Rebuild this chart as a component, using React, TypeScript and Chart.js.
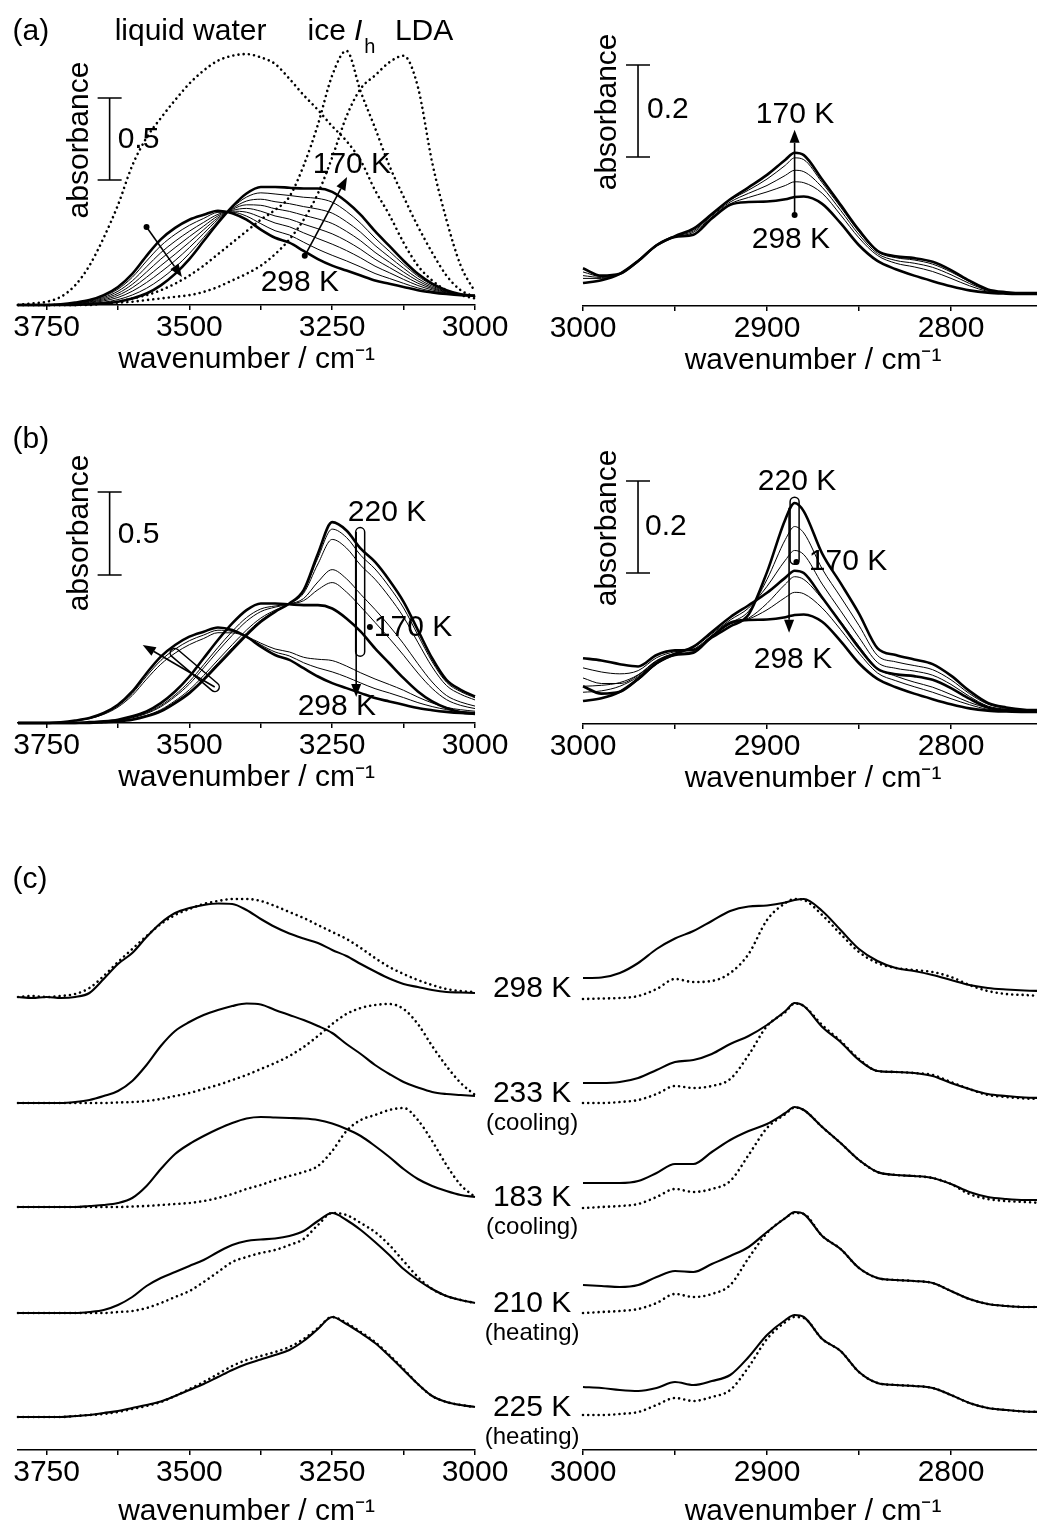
import { useEffect, useRef } from "react";
import { Chart, registerables } from "chart.js";
Chart.register(...registerables);

const FONT = '"Liberation Sans", Arial, Helvetica, sans-serif';
Chart.defaults.font.family = FONT;

// ---------------- data ----------------
const WN_L = [3800, 3775, 3750, 3725, 3700, 3675, 3650, 3625, 3600, 3575, 3550, 3525, 3500, 3475, 3450, 3425, 3400, 3375, 3350, 3325, 3300, 3275, 3250, 3225, 3200, 3175, 3150, 3125, 3100, 3075, 3050, 3025, 3000];
const WN_R = [3000, 2990, 2980, 2970, 2960, 2950, 2940, 2930, 2920, 2910, 2900, 2890, 2885, 2880, 2870, 2860, 2850, 2840, 2830, 2820, 2810, 2800, 2790, 2780, 2770, 2760, 2750];

// (a) OH stretch
const liquidWater = [0.00, 0.01, 0.02, 0.05, 0.12, 0.24, 0.41, 0.61, 0.85, 1.02, 1.14, 1.25, 1.35, 1.43, 1.49, 1.52, 1.53, 1.51, 1.47, 1.38, 1.28, 1.19, 1.09, 1.00, 0.88, 0.70, 0.55, 0.38, 0.24, 0.15, 0.09, 0.06, 0.04];
const iceIh = [0, 0, 0, 0, 0, 0.00, 0.01, 0.02, 0.04, 0.06, 0.09, 0.13, 0.18, 0.24, 0.31, 0.38, 0.45, 0.52, 0.58, 0.66, 0.85, 1.10, 1.40, 1.55, 1.30, 1.08, 0.85, 0.66, 0.48, 0.32, 0.18, 0.09, 0.05];
const lda = [0, 0, 0, 0, 0.00, 0.005, 0.01, 0.015, 0.02, 0.03, 0.04, 0.05, 0.06, 0.08, 0.11, 0.15, 0.19, 0.24, 0.31, 0.40, 0.52, 0.68, 0.90, 1.15, 1.32, 1.40, 1.48, 1.52, 1.33, 0.87, 0.52, 0.24, 0.08];
const oh298 = [0, 0, 0, 0.005, 0.015, 0.03, 0.06, 0.11, 0.19, 0.30, 0.40, 0.47, 0.52, 0.55, 0.575, 0.56, 0.52, 0.46, 0.41, 0.38, 0.33, 0.28, 0.24, 0.21, 0.18, 0.15, 0.13, 0.11, 0.09, 0.077, 0.067, 0.06, 0.057];
const oh170 = [0, 0, 0, 0, 0, 0.005, 0.01, 0.02, 0.04, 0.07, 0.12, 0.19, 0.28, 0.39, 0.50, 0.60, 0.68, 0.72, 0.72, 0.715, 0.71, 0.71, 0.69, 0.63, 0.55, 0.45, 0.36, 0.27, 0.19, 0.13, 0.09, 0.065, 0.055];
const ohCool1 = [0, 0, 0, 0.004, 0.013, 0.027, 0.053, 0.097, 0.169, 0.268, 0.361, 0.431, 0.486, 0.528, 0.565, 0.566, 0.542, 0.496, 0.453, 0.427, 0.383, 0.340, 0.303, 0.269, 0.232, 0.192, 0.162, 0.132, 0.104, 0.084, 0.070, 0.061, 0.057];
const ohCool2 = [0, 0, 0, 0.004, 0.011, 0.023, 0.046, 0.084, 0.147, 0.233, 0.319, 0.389, 0.450, 0.504, 0.553, 0.572, 0.566, 0.535, 0.500, 0.477, 0.440, 0.405, 0.371, 0.332, 0.287, 0.237, 0.197, 0.156, 0.119, 0.092, 0.074, 0.062, 0.056];
const ohCool3 = [0, 0, 0, 0.003, 0.009, 0.019, 0.039, 0.071, 0.126, 0.201, 0.280, 0.350, 0.417, 0.481, 0.543, 0.577, 0.589, 0.572, 0.543, 0.524, 0.493, 0.465, 0.434, 0.391, 0.339, 0.279, 0.229, 0.179, 0.133, 0.100, 0.077, 0.062, 0.056];
const ohCool4 = [0, 0, 0, 0.002, 0.007, 0.016, 0.032, 0.059, 0.105, 0.169, 0.240, 0.310, 0.383, 0.459, 0.532, 0.583, 0.611, 0.608, 0.587, 0.571, 0.547, 0.525, 0.497, 0.449, 0.391, 0.321, 0.261, 0.201, 0.147, 0.107, 0.080, 0.063, 0.056];
const ohCool5 = [0, 0, 0, 0.002, 0.004, 0.012, 0.025, 0.046, 0.084, 0.137, 0.201, 0.271, 0.350, 0.436, 0.522, 0.588, 0.634, 0.645, 0.630, 0.618, 0.600, 0.585, 0.560, 0.508, 0.443, 0.363, 0.293, 0.224, 0.161, 0.115, 0.083, 0.064, 0.056];
const ohCool6 = [0, 0, 0, 0.001, 0.002, 0.009, 0.017, 0.033, 0.061, 0.102, 0.159, 0.229, 0.314, 0.412, 0.511, 0.594, 0.658, 0.684, 0.677, 0.668, 0.657, 0.650, 0.627, 0.571, 0.498, 0.408, 0.328, 0.248, 0.176, 0.123, 0.087, 0.064, 0.055];

// (a) CH stretch
const ch298 = [0.050, 0.056, 0.070, 0.098, 0.132, 0.150, 0.155, 0.190, 0.220, 0.226, 0.227, 0.232, 0.237, 0.238, 0.222, 0.180, 0.132, 0.098, 0.080, 0.066, 0.054, 0.043, 0.034, 0.029, 0.027, 0.026, 0.026];
const ch170 = [0.082, 0.066, 0.070, 0.098, 0.132, 0.152, 0.168, 0.200, 0.232, 0.258, 0.285, 0.318, 0.333, 0.328, 0.275, 0.220, 0.165, 0.120, 0.108, 0.104, 0.096, 0.078, 0.055, 0.036, 0.030, 0.028, 0.028];
const chCool1 = [0.060, 0.060, 0.070, 0.098, 0.132, 0.150, 0.160, 0.193, 0.222, 0.236, 0.248, 0.262, 0.270, 0.268, 0.245, 0.198, 0.148, 0.110, 0.093, 0.085, 0.075, 0.060, 0.044, 0.032, 0.028, 0.027, 0.027];
const chCool2 = [0.066, 0.062, 0.070, 0.098, 0.132, 0.151, 0.163, 0.196, 0.226, 0.245, 0.262, 0.284, 0.295, 0.292, 0.258, 0.208, 0.155, 0.114, 0.099, 0.093, 0.084, 0.068, 0.049, 0.034, 0.029, 0.028, 0.028];
const chCool3 = [0.074, 0.064, 0.070, 0.098, 0.132, 0.152, 0.166, 0.198, 0.230, 0.252, 0.276, 0.306, 0.322, 0.318, 0.268, 0.215, 0.161, 0.118, 0.105, 0.100, 0.091, 0.074, 0.053, 0.035, 0.030, 0.028, 0.028];

// (b) OH stretch, heating
const oh220 = [0, 0, 0, 0, 0, 0, 0.005, 0.01, 0.02, 0.04, 0.07, 0.12, 0.18, 0.26, 0.35, 0.44, 0.53, 0.61, 0.67, 0.72, 0.80, 1.02, 1.21, 1.16, 1.05, 0.97, 0.86, 0.73, 0.56, 0.39, 0.26, 0.20, 0.16];
const ohHeat1 = [0, 0, 0, 0, 0, 0.004, 0.009, 0.017, 0.034, 0.061, 0.105, 0.169, 0.250, 0.351, 0.455, 0.552, 0.635, 0.687, 0.705, 0.717, 0.737, 0.803, 0.846, 0.789, 0.700, 0.606, 0.510, 0.408, 0.301, 0.208, 0.141, 0.106, 0.087];
const ohHeat2 = [0, 0, 0, 0, 0, 0.003, 0.008, 0.016, 0.031, 0.057, 0.098, 0.159, 0.235, 0.332, 0.433, 0.528, 0.613, 0.671, 0.698, 0.717, 0.750, 0.850, 0.924, 0.869, 0.775, 0.684, 0.585, 0.477, 0.357, 0.247, 0.166, 0.126, 0.102];
const ohHeat3 = [0, 0, 0, 0, 0, 0.001, 0.006, 0.012, 0.024, 0.046, 0.080, 0.134, 0.200, 0.286, 0.380, 0.472, 0.560, 0.632, 0.680, 0.719, 0.782, 0.958, 1.106, 1.054, 0.950, 0.866, 0.760, 0.638, 0.486, 0.338, 0.226, 0.173, 0.139];
const ohHeat4 = [0, 0, 0, 0, 0, 0.000, 0.005, 0.011, 0.022, 0.042, 0.074, 0.126, 0.188, 0.270, 0.362, 0.453, 0.542, 0.619, 0.674, 0.720, 0.793, 0.995, 1.168, 1.118, 1.010, 0.928, 0.820, 0.693, 0.530, 0.369, 0.246, 0.189, 0.152];
const ohMelt1 = [0, 0, 0, 0.005, 0.014, 0.028, 0.056, 0.103, 0.178, 0.282, 0.377, 0.445, 0.496, 0.530, 0.559, 0.552, 0.521, 0.471, 0.428, 0.404, 0.363, 0.332, 0.308, 0.277, 0.241, 0.207, 0.181, 0.153, 0.123, 0.099, 0.081, 0.070, 0.064];
const ohMelt2 = [0, 0, 0, 0.004, 0.013, 0.026, 0.052, 0.096, 0.166, 0.264, 0.354, 0.421, 0.472, 0.509, 0.544, 0.543, 0.521, 0.481, 0.446, 0.428, 0.396, 0.384, 0.376, 0.343, 0.302, 0.265, 0.232, 0.197, 0.156, 0.121, 0.094, 0.080, 0.071];

// (b) CH stretch, heating
const ch220 = [0.143, 0.138, 0.130, 0.125, 0.150, 0.160, 0.161, 0.188, 0.212, 0.238, 0.330, 0.445, 0.480, 0.462, 0.370, 0.306, 0.240, 0.165, 0.150, 0.140, 0.130, 0.105, 0.072, 0.046, 0.036, 0.031, 0.030];
const chHeat1 = [0.100, 0.088, 0.088, 0.106, 0.137, 0.154, 0.166, 0.196, 0.226, 0.252, 0.299, 0.356, 0.377, 0.368, 0.304, 0.246, 0.188, 0.134, 0.121, 0.115, 0.106, 0.086, 0.060, 0.039, 0.032, 0.029, 0.029];
const chHeat2 = [0.122, 0.113, 0.109, 0.116, 0.144, 0.157, 0.163, 0.192, 0.219, 0.245, 0.314, 0.401, 0.429, 0.415, 0.337, 0.276, 0.214, 0.149, 0.135, 0.127, 0.118, 0.096, 0.066, 0.043, 0.034, 0.030, 0.029];
const chMelt1 = [0.082, 0.084, 0.090, 0.107, 0.138, 0.153, 0.157, 0.189, 0.217, 0.230, 0.262, 0.304, 0.320, 0.314, 0.272, 0.223, 0.169, 0.121, 0.104, 0.091, 0.080, 0.064, 0.047, 0.035, 0.030, 0.028, 0.027];
const chMelt2 = [0.069, 0.072, 0.082, 0.103, 0.136, 0.152, 0.156, 0.190, 0.218, 0.228, 0.248, 0.275, 0.286, 0.283, 0.252, 0.205, 0.154, 0.111, 0.094, 0.081, 0.069, 0.055, 0.042, 0.032, 0.029, 0.027, 0.027];

// (c) normalised spectra, solid and dotted
const cOH298s = [0.01, 0.00, 0.01, 0.00, 0.01, 0.05, 0.19, 0.34, 0.45, 0.61, 0.75, 0.85, 0.90, 0.93, 0.945, 0.94, 0.88, 0.79, 0.71, 0.645, 0.595, 0.55, 0.48, 0.42, 0.34, 0.265, 0.195, 0.14, 0.11, 0.08, 0.06, 0.055, 0.05];
const cOH298d = [0.01, 0.02, 0.01, 0.02, 0.04, 0.10, 0.22, 0.36, 0.49, 0.62, 0.74, 0.83, 0.89, 0.94, 0.97, 0.99, 0.99, 0.97, 0.92, 0.86, 0.80, 0.73, 0.66, 0.59, 0.50, 0.40, 0.31, 0.24, 0.18, 0.13, 0.09, 0.07, 0.06];
const cOH233s = [0, 0, 0, 0, 0.01, 0.03, 0.07, 0.12, 0.22, 0.38, 0.57, 0.72, 0.81, 0.88, 0.93, 0.97, 0.995, 0.985, 0.93, 0.88, 0.83, 0.77, 0.70, 0.59, 0.49, 0.38, 0.29, 0.21, 0.155, 0.11, 0.09, 0.08, 0.07];
const cOH233d = [0, 0, 0, 0, 0, 0, 0, 0.005, 0.01, 0.02, 0.04, 0.07, 0.10, 0.14, 0.18, 0.23, 0.28, 0.34, 0.40, 0.47, 0.56, 0.67, 0.79, 0.89, 0.95, 0.98, 0.99, 0.94, 0.79, 0.57, 0.37, 0.20, 0.08];
const cOH183s = [0, 0, 0, 0, 0, 0.01, 0.02, 0.04, 0.09, 0.21, 0.38, 0.53, 0.63, 0.71, 0.78, 0.84, 0.885, 0.90, 0.895, 0.89, 0.885, 0.87, 0.835, 0.78, 0.71, 0.61, 0.50, 0.38, 0.28, 0.21, 0.16, 0.12, 0.10];
const cOH183d = [0, 0, 0, 0, 0, 0, 0, 0, 0.005, 0.01, 0.02, 0.03, 0.04, 0.06, 0.09, 0.13, 0.18, 0.22, 0.27, 0.31, 0.35, 0.41, 0.56, 0.76, 0.87, 0.92, 0.97, 0.99, 0.87, 0.66, 0.42, 0.22, 0.10];
const cOH210s = [0, 0, 0, 0, 0, 0.01, 0.03, 0.08, 0.16, 0.27, 0.35, 0.41, 0.47, 0.53, 0.61, 0.68, 0.72, 0.735, 0.745, 0.77, 0.82, 0.92, 1.00, 0.93, 0.83, 0.71, 0.58, 0.44, 0.33, 0.24, 0.17, 0.13, 0.10];
const cOH210d = [0, 0, 0, 0, 0, 0, 0, 0.01, 0.02, 0.05, 0.10, 0.16, 0.22, 0.31, 0.41, 0.51, 0.56, 0.60, 0.63, 0.68, 0.74, 0.88, 1.00, 0.98, 0.90, 0.81, 0.68, 0.52, 0.36, 0.24, 0.17, 0.13, 0.10];
const cOH225s = [0, 0, 0, 0, 0.01, 0.02, 0.04, 0.06, 0.09, 0.12, 0.155, 0.21, 0.27, 0.33, 0.40, 0.47, 0.53, 0.575, 0.62, 0.67, 0.76, 0.88, 1.00, 0.93, 0.84, 0.74, 0.61, 0.47, 0.33, 0.21, 0.15, 0.12, 0.10];
const cOH225d = [0, 0, 0, 0, 0.01, 0.02, 0.03, 0.05, 0.08, 0.11, 0.15, 0.21, 0.28, 0.35, 0.43, 0.51, 0.57, 0.61, 0.65, 0.70, 0.78, 0.89, 1.00, 0.94, 0.85, 0.75, 0.62, 0.48, 0.33, 0.21, 0.15, 0.12, 0.10];

const cCH298s = [0.20, 0.205, 0.25, 0.35, 0.49, 0.595, 0.67, 0.77, 0.87, 0.915, 0.925, 0.955, 0.98, 0.99, 0.87, 0.68, 0.49, 0.37, 0.30, 0.27, 0.23, 0.18, 0.13, 0.10, 0.085, 0.075, 0.07];
const cCH298d = [-0.01, -0.005, 0.00, 0.02, 0.09, 0.19, 0.16, 0.17, 0.25, 0.44, 0.78, 0.95, 0.99, 0.98, 0.83, 0.64, 0.46, 0.35, 0.30, 0.28, 0.26, 0.21, 0.13, 0.07, 0.04, 0.03, 0.02];
const cCH233s = [0.20, 0.20, 0.21, 0.25, 0.33, 0.41, 0.43, 0.49, 0.59, 0.67, 0.78, 0.92, 1.00, 0.97, 0.76, 0.61, 0.43, 0.32, 0.31, 0.30, 0.27, 0.20, 0.14, 0.09, 0.07, 0.055, 0.05];
const cCH233d = [0.00, 0.00, 0.01, 0.03, 0.09, 0.17, 0.15, 0.17, 0.24, 0.48, 0.77, 0.91, 0.995, 0.97, 0.78, 0.62, 0.44, 0.32, 0.31, 0.30, 0.28, 0.21, 0.14, 0.08, 0.06, 0.045, 0.04];
const cCH183s = [0.24, 0.24, 0.24, 0.26, 0.34, 0.43, 0.43, 0.55, 0.67, 0.76, 0.83, 0.94, 1.00, 0.97, 0.80, 0.64, 0.47, 0.35, 0.32, 0.31, 0.29, 0.23, 0.15, 0.10, 0.08, 0.07, 0.07];
const cCH183d = [-0.01, 0.00, 0.01, 0.03, 0.10, 0.18, 0.15, 0.18, 0.26, 0.52, 0.79, 0.93, 0.995, 0.97, 0.80, 0.64, 0.47, 0.35, 0.32, 0.31, 0.29, 0.23, 0.13, 0.08, 0.06, 0.05, 0.04];
const cCH210s = [0.28, 0.27, 0.26, 0.28, 0.36, 0.42, 0.41, 0.49, 0.57, 0.66, 0.81, 0.95, 1.01, 0.99, 0.77, 0.64, 0.45, 0.35, 0.33, 0.32, 0.30, 0.22, 0.14, 0.09, 0.07, 0.06, 0.06];
const cCH210d = [0.00, 0.01, 0.02, 0.04, 0.10, 0.19, 0.16, 0.19, 0.28, 0.55, 0.80, 0.95, 1.00, 0.99, 0.77, 0.64, 0.45, 0.35, 0.33, 0.32, 0.30, 0.22, 0.14, 0.09, 0.07, 0.06, 0.06];
const cCH225s = [0.30, 0.29, 0.27, 0.26, 0.29, 0.35, 0.32, 0.36, 0.42, 0.60, 0.82, 0.97, 1.02, 1.00, 0.78, 0.66, 0.45, 0.34, 0.32, 0.31, 0.29, 0.22, 0.14, 0.09, 0.07, 0.055, 0.05];
const cCH225d = [0.02, 0.02, 0.03, 0.05, 0.12, 0.19, 0.16, 0.20, 0.27, 0.50, 0.78, 0.95, 1.00, 0.99, 0.78, 0.66, 0.45, 0.34, 0.32, 0.31, 0.29, 0.22, 0.14, 0.09, 0.07, 0.055, 0.05];

const ROW_OFFSETS_C = [4.19, 3.14, 2.10, 1.04, 0];
const ROW_TEMPS_C = ["298 K", "233 K", "183 K", "210 K", "225 K"];
const ROW_NOTES_C = ["", "(cooling)", "(cooling)", "(heating)", "(heating)"];

const TICKS_L = [3750, 3625, 3500, 3375, 3250, 3125, 3000];
const LABELS_L = [3750, 3500, 3250, 3000];
const TICKS_R = [3000, 2950, 2900, 2850, 2800, 2750];
const LABELS_R = [3000, 2900, 2800];
const X_TITLE = "wavenumber / cm\u207B\u00B9";

// ---------------- drawing helpers ----------------
type Ctx = CanvasRenderingContext2D;
type Fx = (v: number) => number;

function txt(ctx: Ctx, s: string, x: number, y: number, size = 30, align: CanvasTextAlign = "center", style = "") {
  ctx.font = `${style} ${size}px ${FONT}`;
  ctx.fillStyle = "#000";
  ctx.textAlign = align;
  ctx.textBaseline = "middle";
  ctx.fillText(s, x, y);
}
function vtxt(ctx: Ctx, s: string, x: number, y: number, size = 30) {
  ctx.save();
  ctx.translate(x, y);
  ctx.rotate(-Math.PI / 2);
  txt(ctx, s, 0, 0, size);
  ctx.restore();
}
function arrow(ctx: Ctx, x1: number, y1: number, x2: number, y2: number) {
  const head = 13, hw = 5;
  const a = Math.atan2(y2 - y1, x2 - x1);
  const bx = x2 - head * Math.cos(a), by = y2 - head * Math.sin(a);
  ctx.strokeStyle = "#000";
  ctx.lineWidth = 1.6;
  ctx.beginPath();
  ctx.moveTo(x1, y1);
  ctx.lineTo(bx, by);
  ctx.stroke();
  ctx.beginPath();
  ctx.moveTo(x2, y2);
  ctx.lineTo(bx + hw * Math.sin(a), by - hw * Math.cos(a));
  ctx.lineTo(bx - hw * Math.sin(a), by + hw * Math.cos(a));
  ctx.closePath();
  ctx.fillStyle = "#000";
  ctx.fill();
}
function dot(ctx: Ctx, x: number, y: number, r = 3) {
  ctx.beginPath();
  ctx.arc(x, y, r, 0, Math.PI * 2);
  ctx.fillStyle = "#000";
  ctx.fill();
}
function capsule(ctx: Ctx, x1: number, y1: number, x2: number, y2: number, w = 9) {
  const a = Math.atan2(y2 - y1, x2 - x1);
  const len = Math.hypot(x2 - x1, y2 - y1);
  ctx.save();
  ctx.translate(x1, y1);
  ctx.rotate(a);
  ctx.beginPath();
  ctx.roundRect(-w / 2, -w / 2, len + w, w, w / 2);
  ctx.lineWidth = 1.5;
  ctx.strokeStyle = "#000";
  ctx.stroke();
  ctx.restore();
}
function scaleBar(ctx: Ctx, x: number, yTop: number, yBot: number) {
  ctx.strokeStyle = "#000";
  ctx.lineWidth = 1.6;
  ctx.beginPath();
  ctx.moveTo(x, yTop);
  ctx.lineTo(x, yBot);
  ctx.moveTo(x - 12, yTop);
  ctx.lineTo(x + 12, yTop);
  ctx.moveTo(x - 12, yBot);
  ctx.lineTo(x + 12, yBot);
  ctx.stroke();
}

// ---------------- panel definitions ----------------
type Series = { wn: number[]; v: number[]; w: number; dotted?: boolean; off?: number };
type Panel = {
  key: string;
  area: { l: number; r: number; t: number; b: number };
  padL: number; padR: number; padT: number; axisH: number;
  xMin: number; xMax: number; ticks: number[]; labels: number[];
  yMin: number; yMax: number;
  series: Series[];
  annotate: (ctx: Ctx, X: Fx, Y: Fx) => void;
};

const THICK = 2.6, THIN = 1.0, DOT = 2.6, CW = 2.1;

const cRowsL: [number[], number[]][] = [[cOH298s, cOH298d], [cOH233s, cOH233d], [cOH183s, cOH183d], [cOH210s, cOH210d], [cOH225s, cOH225d]];
const cRowsR: [number[], number[]][] = [[cCH298s, cCH298d], [cCH233s, cCH233d], [cCH183s, cCH183d], [cCH210s, cCH210d], [cCH225s, cCH225d]];

const PANELS: Panel[] = [
  {
    key: "aL", area: { l: 18, r: 475, t: 20, b: 305 }, padL: 60, padR: 60, padT: 40, axisH: 73,
    xMin: 3000, xMax: 3800, ticks: TICKS_L, labels: LABELS_L, yMin: 0, yMax: 1.738,
    series: [
      { wn: WN_L, v: liquidWater, w: DOT, dotted: true },
      { wn: WN_L, v: iceIh, w: DOT, dotted: true },
      { wn: WN_L, v: lda, w: DOT, dotted: true },
      { wn: WN_L, v: oh298, w: THICK },
      { wn: WN_L, v: ohCool1, w: THIN },
      { wn: WN_L, v: ohCool2, w: THIN },
      { wn: WN_L, v: ohCool3, w: THIN },
      { wn: WN_L, v: ohCool4, w: THIN },
      { wn: WN_L, v: ohCool5, w: THIN },
      { wn: WN_L, v: ohCool6, w: THIN },
      { wn: WN_L, v: oh170, w: THICK },
    ],
    annotate: (ctx, X, Y) => {
      txt(ctx, "(a)", X(3809.5), Y(1.665), 30, "left");
      txt(ctx, "liquid water", X(3630.8), Y(1.665), 30, "left");
      txt(ctx, "ice", X(3293), Y(1.665), 30, "left");
      txt(ctx, "I", X(3212), Y(1.665), 30, "left", "italic");
      txt(ctx, "h", X(3194), Y(1.57), 20, "left");
      txt(ctx, "LDA", X(3140.2), Y(1.665), 30, "left");
      scaleBar(ctx, X(3639.6), Y(1.262), Y(0.762));
      txt(ctx, "0.5", X(3625.5), Y(1.006), 30, "left");
      vtxt(ctx, "absorbance", X(3692), Y(1.006));
      txt(ctx, "170 K", X(3215.5), Y(0.854));
      txt(ctx, "298 K", X(3306.6), Y(0.134));
      dot(ctx, X(3575), Y(0.476));
      arrow(ctx, X(3575), Y(0.476), X(3513), Y(0.171));
      dot(ctx, X(3298), Y(0.30));
      arrow(ctx, X(3298), Y(0.30), X(3224), Y(0.78));
    },
  },
  {
    key: "aR", area: { l: 583, r: 1043, t: 20, b: 306 }, padL: 60, padR: 60, padT: 40, axisH: 73,
    xMin: 2750, xMax: 3000, ticks: TICKS_R, labels: LABELS_R, yMin: 0, yMax: 0.6217,
    series: [
      { wn: WN_R, v: ch298, w: THICK },
      { wn: WN_R, v: chCool1, w: THIN },
      { wn: WN_R, v: chCool2, w: THIN },
      { wn: WN_R, v: chCool3, w: THIN },
      { wn: WN_R, v: ch170, w: THICK },
    ],
    annotate: (ctx, X, Y) => {
      scaleBar(ctx, X(2970.1), Y(0.524), Y(0.324));
      txt(ctx, "0.2", X(2965.2), Y(0.426), 30, "left");
      vtxt(ctx, "absorbance", X(2986.4), Y(0.422));
      txt(ctx, "170 K", X(2884.8), Y(0.415));
      txt(ctx, "298 K", X(2887), Y(0.143));
      dot(ctx, X(2885), Y(0.198));
      arrow(ctx, X(2885), Y(0.198), X(2885), Y(0.383));
    },
  },
  {
    key: "bL", area: { l: 18, r: 475, t: 440, b: 723 }, padL: 60, padR: 60, padT: 40, axisH: 73,
    xMin: 3000, xMax: 3800, ticks: TICKS_L, labels: LABELS_L, yMin: 0, yMax: 1.705,
    series: [
      { wn: WN_L, v: oh298, w: THICK },
      { wn: WN_L, v: ohMelt1, w: THIN },
      { wn: WN_L, v: ohMelt2, w: THIN },
      { wn: WN_L, v: oh170, w: THICK },
      { wn: WN_L, v: ohHeat1, w: THIN },
      { wn: WN_L, v: ohHeat2, w: THIN },
      { wn: WN_L, v: ohHeat3, w: THIN },
      { wn: WN_L, v: ohHeat4, w: THIN },
      { wn: WN_L, v: oh220, w: THICK },
    ],
    annotate: (ctx, X, Y) => {
      txt(ctx, "(b)", X(3809.5), Y(1.705), 30, "left");
      scaleBar(ctx, X(3639.6), Y(1.392), Y(0.892));
      txt(ctx, "0.5", X(3625.5), Y(1.133), 30, "left");
      vtxt(ctx, "absorbance", X(3692), Y(1.145));
      txt(ctx, "220 K", X(3154), Y(1.265));
      txt(ctx, "170 K", X(3108.6), Y(0.572));
      txt(ctx, "298 K", X(3241.8), Y(0.096));
      capsule(ctx, X(3201), Y(1.15), X(3201), Y(0.43));
      arrow(ctx, X(3208), Y(1.15), X(3208), Y(0.157));
      dot(ctx, X(3184), Y(0.578));
      capsule(ctx, X(3525.7), Y(0.422), X(3455.6), Y(0.217));
      arrow(ctx, X(3455.6), Y(0.217), X(3581.7), Y(0.47));
    },
  },
  {
    key: "bR", area: { l: 583, r: 1043, t: 440, b: 724 }, padL: 60, padR: 60, padT: 40, axisH: 73,
    xMin: 2750, xMax: 3000, ticks: TICKS_R, labels: LABELS_R, yMin: 0, yMax: 0.617,
    series: [
      { wn: WN_R, v: ch298, w: THICK },
      { wn: WN_R, v: chMelt2, w: THIN },
      { wn: WN_R, v: chMelt1, w: THIN },
      { wn: WN_R, v: ch170, w: THICK },
      { wn: WN_R, v: chHeat1, w: THIN },
      { wn: WN_R, v: chHeat2, w: THIN },
      { wn: WN_R, v: ch220, w: THICK },
    ],
    annotate: (ctx, X, Y) => {
      scaleBar(ctx, X(2970.1), Y(0.528), Y(0.328));
      txt(ctx, "0.2", X(2966.3), Y(0.428), 30, "left");
      vtxt(ctx, "absorbance", X(2986.4), Y(0.426));
      txt(ctx, "220 K", X(2883.7), Y(0.526));
      txt(ctx, "170 K", X(2856), Y(0.352));
      txt(ctx, "298 K", X(2885.9), Y(0.139));
      capsule(ctx, X(2885), Y(0.483), X(2885), Y(0.357));
      arrow(ctx, X(2888), Y(0.47), X(2888), Y(0.198));
      dot(ctx, X(2884), Y(0.352));
    },
  },
  {
    key: "cL", area: { l: 18, r: 475, t: 880, b: 1450 }, padL: 60, padR: 135, padT: 40, axisH: 80,
    xMin: 3000, xMax: 3800, ticks: TICKS_L, labels: LABELS_L, yMin: -0.33, yMax: 5.37,
    series: cRowsL.flatMap(([s, d], i) => [
      { wn: WN_L, v: d, w: DOT, dotted: true, off: ROW_OFFSETS_C[i] },
      { wn: WN_L, v: s, w: CW, off: ROW_OFFSETS_C[i] },
    ]),
    annotate: (ctx, X, Y) => {
      txt(ctx, "(c)", X(3809.5), Y(5.37), 30, "left");
      ROW_OFFSETS_C.forEach((off, i) => {
        txt(ctx, ROW_TEMPS_C[i], X(2900), Y(off + 0.09), 30);
        if (ROW_NOTES_C[i]) txt(ctx, ROW_NOTES_C[i], X(2900), Y(off - 0.2), 24);
      });
    },
  },
  {
    key: "cR", area: { l: 583, r: 1043, t: 880, b: 1450 }, padL: 60, padR: 60, padT: 40, axisH: 80,
    xMin: 2750, xMax: 3000, ticks: TICKS_R, labels: LABELS_R, yMin: -0.33, yMax: 5.37,
    series: cRowsR.flatMap(([s, d], i) => [
      { wn: WN_R, v: d, w: DOT, dotted: true, off: ROW_OFFSETS_C[i] },
      { wn: WN_R, v: s, w: CW, off: ROW_OFFSETS_C[i] },
    ]),
    annotate: () => {},
  },
];

function makeConfig(p: Panel): any {
  const labelSet = new Set(p.labels);
  return {
    type: "line",
    data: {
      datasets: p.series.map((s) => ({
        data: s.wn.map((x, i) => ({ x, y: s.v[i] + (s.off ?? 0) })),
        borderColor: "#000",
        borderWidth: s.w,
        borderDash: s.dotted ? [0.01, 5.2] : [],
        borderCapStyle: s.dotted ? "round" : "butt",
        borderJoinStyle: "round",
        pointRadius: 0,
        fill: false,
        cubicInterpolationMode: "monotone",
        clip: false,
      })),
    },
    options: {
      responsive: false,
      animation: false,
      devicePixelRatio: 1,
      events: [],
      layout: { padding: { left: p.padL, right: p.padR, top: p.padT, bottom: 0 } },
      plugins: { legend: { display: false }, tooltip: { enabled: false } },
      scales: {
        x: {
          type: "linear",
          reverse: true,
          min: p.xMin,
          max: p.xMax,
          afterBuildTicks: (s: any) => {
            s.ticks = p.ticks.map((v) => ({ value: v }));
          },
          afterFit: (s: any) => {
            s.height = p.axisH;
          },
          ticks: {
            autoSkip: false,
            maxRotation: 0,
            minRotation: 0,
            padding: 0,
            color: "#000",
            font: { family: FONT, size: 30 },
            callback: (v: any) => (labelSet.has(Number(v)) ? String(v) : ""),
          },
          grid: { display: true, drawOnChartArea: false, drawTicks: true, tickLength: 5, tickWidth: 1.5, tickColor: "#000", lineWidth: 1.5, color: "#000" },
          border: { display: true, color: "#000", width: 1.6 },
          title: { display: true, text: X_TITLE, color: "#000", font: { family: FONT, size: 30 }, padding: 0 },
        },
        y: { type: "linear", display: false, min: p.yMin, max: p.yMax },
      },
    },
    plugins: [
      {
        id: "annot",
        afterDraw(chart: any) {
          const ctx = chart.ctx as Ctx;
          const xs = chart.scales.x, ys = chart.scales.y;
          ctx.save();
          p.annotate(ctx, (v) => xs.getPixelForValue(v), (v) => ys.getPixelForValue(v));
          ctx.restore();
        },
      },
    ],
  };
}

function PanelCanvas({ p }: { p: Panel }) {
  const ref = useRef<HTMLCanvasElement | null>(null);
  const w = p.area.r - p.area.l + p.padL + p.padR;
  const h = p.area.b - p.area.t + p.padT + p.axisH;
  useEffect(() => {
    if (!ref.current) return;
    const chart = new Chart(ref.current, makeConfig(p));
    return () => chart.destroy();
  }, [p]);
  return (
    <canvas
      ref={ref}
      width={w}
      height={h}
      style={{ position: "absolute", left: p.area.l - p.padL, top: p.area.t - p.padT, width: w, height: h }}
    />
  );
}

export default function App() {
  return (
    <div style={{ position: "absolute", left: 0, top: 0, width: 1037, height: 1533, overflow: "hidden", background: "#fff" }}>
      {PANELS.map((p) => (
        <PanelCanvas key={p.key} p={p} />
      ))}
    </div>
  );
}
